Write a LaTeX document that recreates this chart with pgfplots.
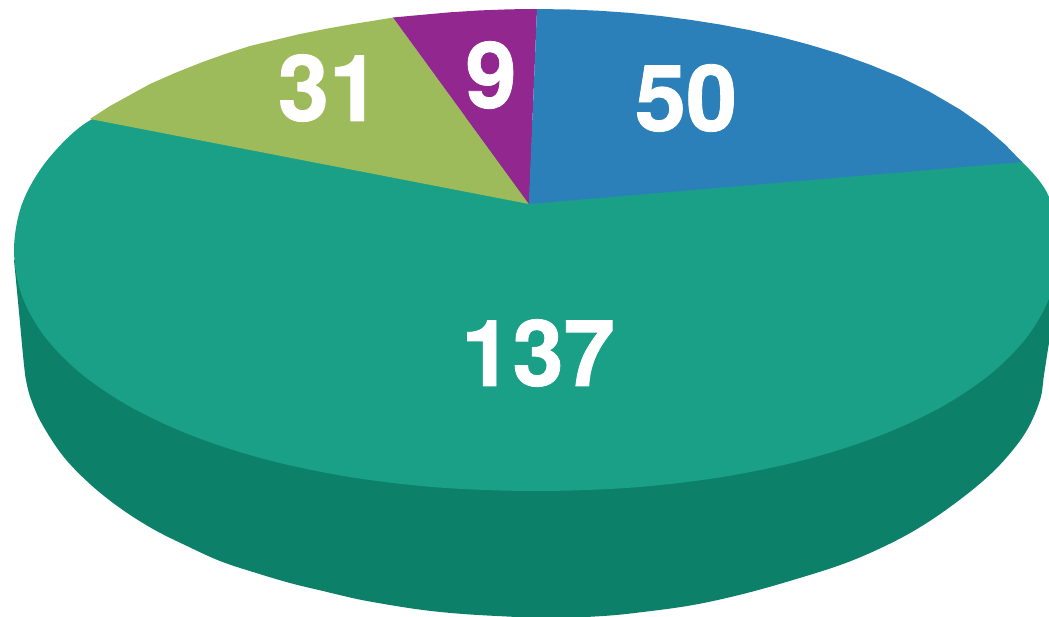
\documentclass[border=0pt]{standalone}
\usepackage{pgfplots}
\pgfplotsset{compat=1.18}
\usepackage{fontspec}
\setmainfont[BoldFeatures={FakeBold=0.9}]{TeX Gyre Heros}
\definecolor{teal1}{HTML}{1AA086}
\definecolor{teal2}{HTML}{0D8069}
\definecolor{lime1}{HTML}{9EBB5B}
\definecolor{purp1}{HTML}{92278F}
\definecolor{blue1}{HTML}{2C80BA}
\begin{document}
\begin{tikzpicture}
\begin{axis}[
  width=1049pt, height=616pt, scale only axis,
  xmin=0, xmax=1049, ymin=0, ymax=616, y dir=reverse,
  hide axis, clip=true,
]
% dark side wall
\addplot[fill=teal2, draw=none, smooth, tension=0.6] coordinates {
(14,260)(19,312)(24,365)(27,385)(32,402)(42,424)(63,456)(90,484)(120,508)(153,529)(187,546)(220,561)(253,572)(290,583)(323,591)(357,599)(390,605)(423,610)(457,613.5)(497,616)(550,618)(603,616)(643,612)(693,605)(743,594)(793,580)(843,564)(883,547)(917,529)(950,507)(983,481)(1007,457)(1027,430)(1040,400)(1044,375)(1049,343)(1055,310)
} -- (1055,260) -- cycle;
% 137
\addplot[fill=teal1, draw=none, smooth, tension=0.55] coordinates {
(985,135)(1022,162)(1049,197)(1058,250)(1050.4,294.9)(1027.7,336)(990.7,373.9)(940.1,407.7)(877.5,436.6)(804.4,459.9)(722.4,477)(633.2,487.5)(536,491)(438.8,487.5)(349.6,477)(267.6,459.9)(194.5,436.6)(131.9,407.7)(81.3,373.9)(44.3,336)(21.6,294.9)(14,250)(21.6,205.1)(44.3,164)(81.3,126.1)(131.9,98)
} -- (529,120) -- cycle;
% 31
\addplot[fill=lime1, draw=none] coordinates {
(529,204)(90,119)(110,106)(130,95)(150,84)(175,73)(200,63)(225,54)(250,46)(275,40)(300,34)(325,29)(350,24.5)(375,20.5)(393,17.5)
} -- cycle;
% 9
\addplot[fill=purp1, draw=none] coordinates {
(529,204)(393,17.5)(420,15)(450,12.3)(480,10.4)(510,9.3)(537,9)
} -- cycle;
% 50
\addplot[fill=blue1, draw=none] coordinates {
(529,204)(537,9)(570,9.5)(600,10.8)(630,12.9)(660,15.9)(690,19.8)(720,24.5)(750,30.2)(780,36.9)(810,44.9)(840,54)(870,64.7)(900,77)(930,92)(960,109.5)(985,127)(1005,144.4)(1022,162)
} -- cycle;
\node[text=white, font=\fontsize{92}{92}\selectfont\bfseries, inner sep=0pt] at (axis cs:329,88) {31};
\node[text=white, font=\fontsize{92}{92}\selectfont\bfseries, inner sep=0pt] at (axis cs:491,75) {9};
\node[text=white, font=\fontsize{92}{92}\selectfont\bfseries, inner sep=0pt] at (axis cs:686,98) {50};
\node[text=white, font=\fontsize{92}{92}\selectfont\bfseries, inner sep=0pt] at (axis cs:538,353) {137};
\end{axis}
\pgfresetboundingbox
\path[use as bounding box] (current axis.south west) rectangle (current axis.north east);
\end{tikzpicture}
\end{document}
